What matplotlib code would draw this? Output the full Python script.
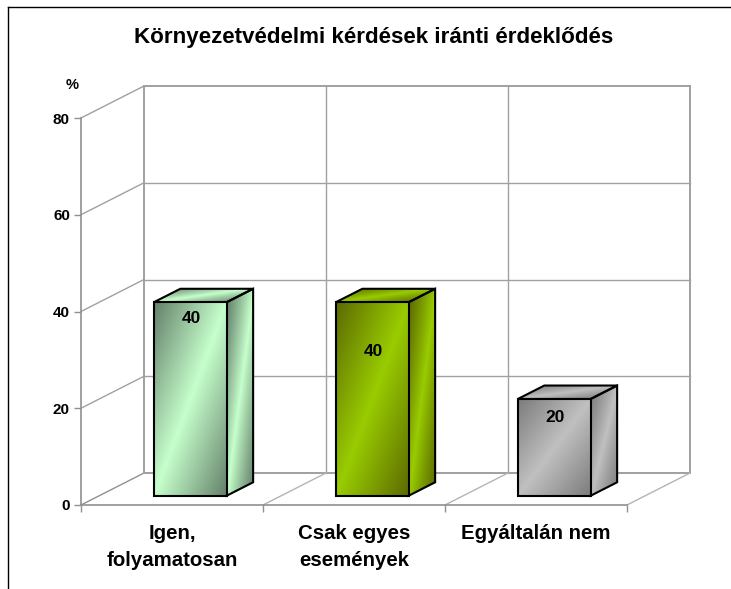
import numpy as np
import matplotlib
matplotlib.use("Agg")
import matplotlib.pyplot as plt
from matplotlib.colors import LinearSegmentedColormap
from matplotlib.lines import Line2D
from matplotlib.patches import Polygon

plt.rcParams['font.family'] = ['Liberation Sans', 'DejaVu Sans']
plt.rcParams['font.weight'] = 'bold'

title = "Környezetvédelmi kérdések iránti érdeklődés"
categories = ["Igen,\nfolyamatosan", "Csak egyes\nesemények", "Egyáltalán nem"]
values = [40, 40, 20]
y_ticks = [0, 20, 40, 60, 80]
unit = "%"

dark_colors = ["#64806a", "#5c6a00", "#7c7c7c"]
light_colors = ["#c6ffcc", "#99cc00", "#c0c0c0"]
label_drop_px = [16, 49, 19]

W, H = 731, 589
fig = plt.figure(figsize=(W / 100, H / 100), dpi=100, facecolor="white")
ax = fig.add_axes([81 / W, 1 - 505 / H, 546 / W, 387 / H], facecolor="none")
ax.set_xlim(0, 3)
ax.set_ylim(0, 80)

# oblique depth projection, expressed in data units
DX, DY = 63 / 182, 32 / 4.8375


def proj(x, v, d=0.0):
    return (x + d * DX, v + d * DY)


GRID = "#a0a0a0"
WALL = "#909090"
# walls and floor
for v in y_ticks:
    ax.plot(*zip(proj(0, v), proj(0, v, 1)), color=GRID if v else WALL, lw=1, clip_on=False, zorder=1)
    ax.plot(*zip(proj(0, v, 1), proj(3, v, 1)), color=GRID, lw=1.4 if v in (0, 80) else 1,
            clip_on=False, zorder=1)
for i in range(1, 4):
    ax.plot(*zip(proj(i, 0, 1), proj(i, 80, 1)), color=GRID, lw=1.4 if i == 3 else 1, clip_on=False, zorder=1)
    ax.plot(*zip(proj(i, 0), proj(i, 0, 1)), color="#b4b4b4", lw=1, clip_on=False, zorder=1)
ax.plot(*zip(proj(0, 0, 1), proj(0, 80, 1)), color=GRID, lw=1.4, clip_on=False, zorder=1)

# gradient: dark at two opposite corners, light along the other diagonal
u, w = np.meshgrid(np.linspace(0, 1, 128), np.linspace(0, 1, 128))
grad = 1 - np.abs(u + w - 1)


def face(points, cmap, z, sharpen=1.0):
    xs, ys = zip(*points)
    img = ax.imshow(grad ** sharpen, cmap=cmap, vmin=0, vmax=1, origin="upper", aspect="auto",
                    extent=(min(xs), max(xs), min(ys), max(ys)), interpolation="bilinear", zorder=z)
    poly = Polygon(points, closed=True, facecolor="none", edgecolor="black", lw=1.5,
                   joinstyle="miter", clip_on=False, zorder=z + 0.1)
    ax.add_patch(poly)
    img.set_clip_path(poly)


D0, D1 = 0.29, 0.71
half = 0.2
for i, (val, dc, lc, drop) in enumerate(zip(values, dark_colors, light_colors, label_drop_px)):
    cmap = LinearSegmentedColormap.from_list(f"bar{i}", [dc, lc])
    c = i + 0.5
    l, r = c - half, c + half
    face([proj(r, 0, D0), proj(r, 0, D1), proj(r, val, D1), proj(r, val, D0)], cmap, 3, sharpen=1.2)
    face([proj(l, val, D0), proj(r, val, D0), proj(r, val, D1), proj(l, val, D1)], cmap, 3, sharpen=1.3)
    face([proj(l, 0, D0), proj(r, 0, D0), proj(r, val, D0), proj(l, val, D0)], cmap, 4)
    ax.annotate(str(val), xy=proj(c, val, D0), xytext=(0.7, -drop * 0.72), textcoords="offset points",
                ha="center", va="center", fontsize=12.5, color="black", zorder=6)

ax.set_xlim(0, 3)
ax.set_ylim(0, 80)

# axes
for s in ("top", "right"):
    ax.spines[s].set_visible(False)
for s in ("left", "bottom"):
    ax.spines[s].set_color(WALL)
    ax.spines[s].set_linewidth(1.2)
    ax.spines[s].set_zorder(2)
ax.set_yticks(y_ticks)
ax.set_yticklabels([str(v) for v in y_ticks], fontsize=11)
ax.tick_params(axis="y", length=5, width=1, color=WALL, pad=3)
ax.set_xticks(range(len(categories) + 1))
ax.set_xticklabels([])
ax.tick_params(axis="x", length=5, width=1, color=WALL)
ax.set_xticks(np.arange(len(categories)) + 0.5, minor=True)
ax.set_xticklabels(categories, minor=True, fontsize=14.7, linespacing=1.5)
ax.tick_params(axis="x", which="minor", length=0, pad=14)

fig.text(72 / W, 1 - 85 / H, unit, ha="center", va="center", fontsize=10.5)
fig.text(373.5 / W, 1 - 37 / H, title, ha="center", va="center", fontsize=16.1)

fig.add_artist(Line2D([7.5 / W, 7.5 / W], [0, 1 - 6.5 / H], color="black", lw=1))
fig.add_artist(Line2D([7.5 / W, 1], [1 - 6.5 / H, 1 - 6.5 / H], color="black", lw=1))

fig.savefig("out.png", dpi=100)
